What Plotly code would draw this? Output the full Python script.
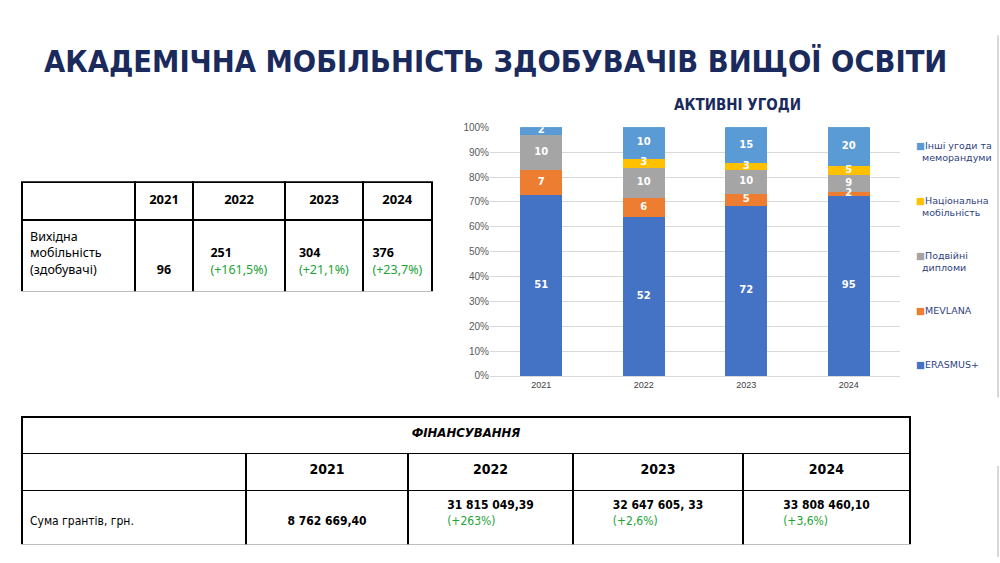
import plotly.graph_objects as go

# --- chart data: active agreements ---
years = ['2021', '2022', '2023', '2024']
series_names = ['ERASMUS+', 'MEVLANA', 'Подвійні<br>дипломи',
                'Національна<br>мобільність', 'Інші угоди та<br>меморандуми']
series_colors = ['#4472C4', '#ED7D31', '#A5A5A5', '#FFC000', '#5B9BD5']
erasmus = [51, 52, 72, 95]
mevlana = [7, 6, 5, 2]
double_diplomas = [10, 10, 10, 9]
national = [0, 3, 3, 5]
other = [2, 10, 15, 20]

# --- table data: outgoing mobility ---
mobility_label = 'Вихідна<br>мобільність<br>(здобувачі)'
mobility_values = ['96', '251', '304', '376']
mobility_growth = ['', '(+161,5%)', '(+21,1%)', '(+23,7%)']

# --- table data: funding ---
funding_title = 'ФІНАНСУВАННЯ'
funding_label = 'Сума грантів, грн.'
funding_values = ['8 762 669,40', '31 815 049,39', '32 647 605, 33', '33 808 460,10']
funding_growth = ['', '(+263%)', '(+2,6%)', '(+3,6%)']

NAVY = '#1b2a5c'
GREEN = '#22a336'
COND = 'DejaVu Sans Condensed, Roboto, sans-serif'
SANS = 'Liberation Sans, Arial, sans-serif'
BLANK = '\u00a0<br>'  # go.Table has no vertical centering: a non-empty spacer line


def with_growth(value, growth, extra=0):
    if not growth:
        return BLANK * (1 + extra) + f'<b>{value}</b>'
    return BLANK * extra + f'<b>{value}</b><br><span style="color:{GREEN}">{growth}</span>'


fig = go.Figure()

all_series = [erasmus, mevlana, double_diplomas, national, other]
totals = [sum(col) for col in zip(*all_series)]

for name, color, vals in zip(series_names, series_colors, all_series):
    fig.add_trace(go.Bar(
        x=years,
        y=vals,
        name=name.replace('<br>', ' '),
        marker=dict(color=color, line=dict(color=color, width=1)),
        hovertemplate='%{x}: %{y}<extra></extra>',
        showlegend=False,
    ))

# segment labels on top of all bars (so thin segments keep a readable number)
lab_x, lab_y, lab_t = [], [], []
running = [0] * len(years)
for vals in all_series:
    for j, v in enumerate(vals):
        if v:
            lab_x.append(years[j])
            lab_y.append((running[j] + v / 2) / totals[j] * 100)
            lab_t.append(f'<b>{v}</b>')
        running[j] += v
fig.add_trace(go.Scatter(
    x=lab_x, y=lab_y, text=lab_t, mode='text',
    textfont=dict(color='white', size=10, family='DejaVu Sans, sans-serif'),
    hoverinfo='skip', showlegend=False,
))

fig.update_layout(
    barmode='stack',
    barnorm='percent',
    bargap=0.6,
    width=1000,
    height=563,
    margin=dict(l=0, r=0, t=0, b=0),
    paper_bgcolor='white',
    plot_bgcolor='white',
    font=dict(family='Noto Sans, sans-serif', color='black'),
    showlegend=False,
    xaxis=dict(domain=[0.49, 0.9], tickfont=dict(size=9, color='#404040', family=SANS),
               showline=True, linecolor='#d9d9d9', ticks=''),
    yaxis=dict(domain=[1 - 378 / 563, 1 - 124 / 563], range=[0, 100], dtick=10, ticksuffix='%',
               tickfont=dict(size=10, color='#595959', family=SANS),
               gridcolor='#d9d9d9', zeroline=False, ticks=''),
)

# legend drawn as annotations, top item = top of the stack
for i, (name, color) in enumerate(zip(series_names[::-1], series_colors[::-1])):
    lines = name.split('<br>')
    text = f'<span style="color:{color}">■</span>' + lines[0]
    if len(lines) > 1:
        text += '<br>  ' + lines[1]
    fig.add_annotation(x=0.914, y=1 - (135 + 56 * i) / 563, xref='paper', yref='paper',
                       xanchor='left', yanchor='top', align='left', showarrow=False,
                       text=text, font=dict(size=9.5, color='#2f3f7f', family='DejaVu Sans, sans-serif'))

# outgoing mobility table
fig.add_trace(go.Table(
    domain=dict(x=[0.022, 0.432], y=[1 - 292 / 563, 1 - 180 / 563]),
    columnwidth=[113, 58, 92, 78, 69],
    header=dict(
        values=[''] + [f'<b>{y}</b>' for y in years],
        align='center', height=38,
        line=dict(color='black', width=1.5), fill_color='white',
        font=dict(size=13, color='black', family='Noto Sans, sans-serif'),
    ),
    cells=dict(
        values=[[mobility_label]] + [[with_growth(v, g, extra=1)] for v, g in zip(mobility_values, mobility_growth)],
        align=['left', 'center', 'center', 'center', 'center'], height=72,
        line=dict(color='black', width=1.5), fill_color='white',
        font=dict(size=12.5, color='black', family='Noto Sans, sans-serif'),
    ),
))

# funding table: title row
fig.add_trace(go.Table(
    domain=dict(x=[0.022, 0.910], y=[1 - 458 / 563, 1 - 420 / 563]),
    header=dict(
        values=[f'<b><i>{funding_title}</i></b>'],
        align='center', height=37,
        line=dict(color='black', width=1.5), fill_color='white',
        font=dict(size=13, color='black', family=COND),
    ),
    cells=dict(values=[[]], height=1, line=dict(color='black', width=1.5)),
))

# funding table: body
fig.add_trace(go.Table(
    domain=dict(x=[0.022, 0.910], y=[1 - 550 / 563, 1 - 457 / 563]),
    columnwidth=[224, 162, 165, 170, 167],
    header=dict(
        values=[''] + [f'<b>{y}</b>' for y in years],
        align='center', height=37,
        line=dict(color='black', width=1.5), fill_color='white',
        font=dict(size=14, color='black', family=COND),
    ),
    cells=dict(
        values=[[BLANK + funding_label]] + [[with_growth(v, g)] for v, g in zip(funding_values, funding_growth)],
        align=['left', 'center', 'center', 'center', 'center'], height=54,
        line=dict(color='black', width=1.5), fill_color='white',
        font=dict(size=12, color='black', family=COND),
    ),
))

# headings
fig.add_annotation(x=0.495, y=1 - 57 / 563, xref='paper', yref='paper', showarrow=False,
                   xanchor='center', yanchor='middle',
                   text='<b>АКАДЕМІЧНА МОБІЛЬНІСТЬ ЗДОБУВАЧІВ ВИЩОЇ ОСВІТИ</b>',
                   font=dict(size=30.5, color=NAVY, family=COND))
fig.add_annotation(x=0.737, y=1 - 101 / 563, xref='paper', yref='paper', showarrow=False,
                   xanchor='center', yanchor='middle',
                   text='<b>АКТИВНІ УГОДИ</b>',
                   font=dict(size=15, color=NAVY, family=COND))

# slide edge
fig.add_shape(type='line', xref='paper', yref='paper', x0=0.998, x1=0.998, y0=1 - 400 / 563, y1=1 - 30 / 563,
              line=dict(color='#b0b0b0', width=1))
fig.add_shape(type='line', xref='paper', yref='paper', x0=0.998, x1=0.998, y0=0, y1=1 - 470 / 563,
              line=dict(color='#b0b0b0', width=1))

# remove the default 8px page margin so the figure sits at the window origin
fig.write_html('out.html', config={'displayModeBar': False},
               post_script="document.body.style.margin='0';")
